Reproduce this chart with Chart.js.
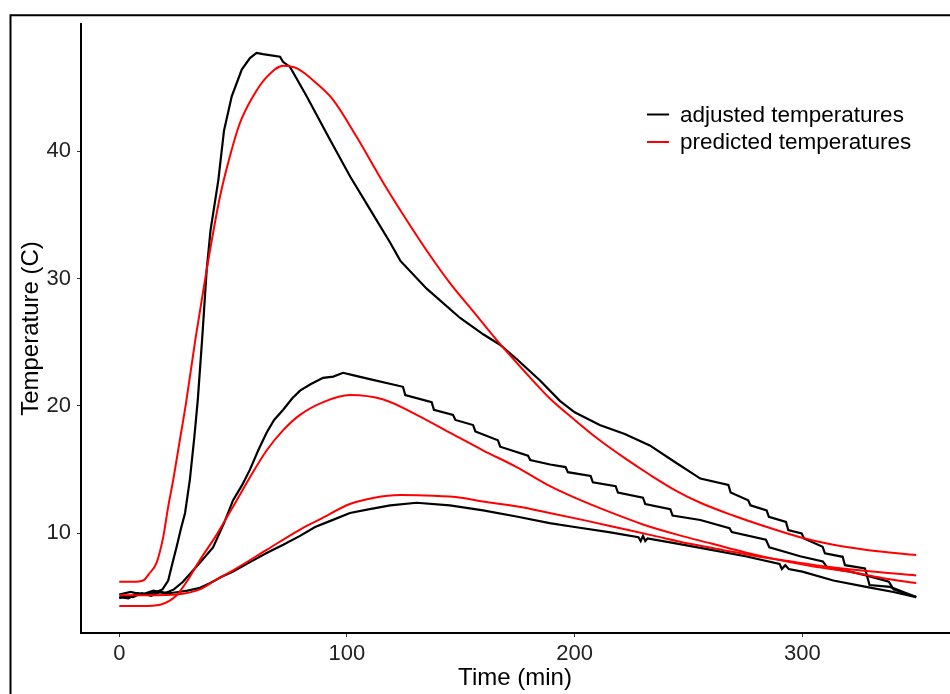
<!DOCTYPE html>
<html>
<head>
<meta charset="utf-8">
<script src="https://cdn.jsdelivr.net/npm/chart.js@4.4.1/dist/chart.umd.min.js"></script>
<style>
  html, body { margin: 0; padding: 0; background: #fff; overflow: hidden; }
  #wrap { position: relative; width: 950px; height: 694px; }
</style>
</head>
<body>
<div id="wrap"><canvas id="tempChart" width="950" height="694"></canvas></div>
<script>
// adjusted (measured) temperatures, three runs
const adjTimeA = [0, 4, 8, 12, 16, 19, 21.5, 23, 25.2, 27, 28.9, 31, 33, 34.5, 36.5, 38.4, 40.1, 43.5, 46, 49.4, 53.8, 57.4, 60.3, 63.1, 70.6, 71.9, 75, 82.3, 92.5, 101.4, 110.2, 119, 123.4, 135, 149.7, 160, 167.2, 175, 184.8, 193.5, 200, 211, 222, 233, 244, 255.2, 267.5, 268.5, 276.2, 277.2, 284.3, 285.3, 292.8, 293.8, 299.7, 300.7, 308.9, 309.9, 317.7, 318.7, 327.5, 329.5, 338.5, 350];
const adjTempA = [5.0, 4.9, 5.3, 5.2, 5.4, 5.6, 6.3, 7.4, 8.95, 10.3, 11.6, 14.2, 17.6, 20.5, 25.5, 30.7, 33.8, 37.7, 41.6, 44.3, 46.4, 47.3, 47.7, 47.6, 47.4, 47.0, 46.6, 44.3, 40.9, 38.0, 35.4, 32.8, 31.4, 29.2, 26.9, 25.6, 24.8, 23.6, 22.0, 20.4, 19.5, 18.5, 17.8, 16.9, 15.6, 14.3, 13.8, 13.2, 12.6, 12.2, 11.8, 11.3, 10.9, 10.26, 10.0, 9.6, 8.95, 8.43, 8.16, 7.5, 7.25, 5.94, 5.8, 5.0];

const adjTimeB = [0, 5, 10, 15, 20, 24, 28, 35.4, 41.2, 46, 50, 54, 57.4, 61, 64.7, 68, 72, 76, 79.4, 84, 89.5, 94, 98.3, 103, 110, 124.6, 125.6, 137.2, 138.2, 146.6, 147.6, 155.4, 156.4, 166.3, 167.3, 179.5, 180.5, 189.2, 196, 197, 207, 208, 218, 219, 230, 231, 242, 243, 255.2, 268, 269, 284, 285.5, 299, 309, 311, 321, 328, 338, 340, 350];
const adjTempB = [5.2, 5.4, 5.2, 5.5, 5.3, 5.6, 6.2, 7.7, 8.9, 10.8, 12.6, 13.8, 15.0, 16.5, 17.9, 18.9, 19.7, 20.6, 21.2, 21.7, 22.2, 22.3, 22.6, 22.4, 22.1, 21.5, 20.85, 20.3, 19.7, 19.3, 18.9, 18.5, 18.0, 17.3, 16.8, 16.1, 15.75, 15.4, 15.2, 14.8, 14.5, 14.0, 13.7, 13.2, 12.8, 12.3, 11.9, 11.4, 11.05, 10.4, 10.1, 9.5, 8.9, 8.2, 7.8, 7.3, 7.0, 6.7, 6.2, 5.6, 5.0];

const adjTimeC = [0, 3, 6, 10, 14, 18, 22, 26, 30, 35, 40, 45, 50, 57, 64.7, 72, 79.4, 86, 93, 101.3, 110, 119, 130.6, 145.2, 159.8, 175, 189, 200, 215, 228, 229, 230, 231, 232, 245, 260, 275, 290, 291, 292.5, 294, 300, 313.6, 328, 340, 350];
const adjTempC = [4.9, 5.1, 5.0, 5.3, 5.1, 5.4, 5.3, 5.4, 5.5, 5.7, 6.1, 6.6, 7.0, 7.7, 8.45, 9.1, 9.8, 10.5, 11.0, 11.6, 11.9, 12.2, 12.4, 12.2, 11.8, 11.3, 10.8, 10.5, 10.1, 9.7, 9.4, 9.8, 9.4, 9.6, 9.2, 8.7, 8.2, 7.6, 7.2, 7.5, 7.2, 7.0, 6.3, 5.8, 5.4, 5.0];

// predicted temperatures, three runs
const predTimeA = [0, 6, 10.5, 13, 16.4, 19.3, 21.5, 23.7, 26.5, 29.3, 33.5, 38.4, 44.2, 48.6, 53, 58.8, 64.7, 72, 77.9, 86.7, 94, 104.3, 116, 123.3, 135, 145, 156, 167, 178, 189, 200, 211, 222, 233, 244, 255.2, 269.6, 284.4, 299, 313.6, 328.3, 350];
const predTempA = [6.2, 6.2, 6.3, 6.8, 7.7, 9.7, 12.1, 14.2, 17.2, 20.2, 25.3, 30.7, 36.4, 39.6, 42.2, 44.3, 45.8, 46.7, 46.5, 45.3, 44.0, 41.1, 37.5, 35.4, 32.2, 29.7, 27.3, 24.9, 22.7, 20.6, 18.9, 17.3, 15.9, 14.6, 13.4, 12.4, 11.4, 10.5, 9.7, 9.1, 8.7, 8.3];

const predTimeB = [0, 10, 18, 22, 25.5, 29.6, 35.4, 42.8, 51.6, 57.4, 64.7, 72, 79.4, 89.6, 101.3, 116, 130.6, 145.2, 159.9, 174.5, 189.2, 200, 215, 230, 245, 260, 275, 290, 305, 320, 335, 350];
const predTempB = [4.3, 4.3, 4.4, 4.7, 5.2, 6.2, 7.9, 9.9, 12.6, 14.4, 16.5, 18.1, 19.3, 20.3, 20.85, 20.5, 19.3, 17.9, 16.5, 15.2, 13.7, 12.8, 11.7, 10.7, 9.9, 9.2, 8.5, 7.9, 7.4, 7.0, 6.5, 6.1];

const predTimeC = [0, 15, 25, 35.4, 42, 50, 64.7, 79.4, 88.1, 101.3, 112, 123.3, 137.8, 150, 159.8, 175, 189, 205, 220, 235, 250, 265, 280, 295, 310, 325, 350];
const predTempC = [5.15, 5.15, 5.2, 5.6, 6.3, 7.1, 8.7, 10.3, 11.1, 12.3, 12.8, 13.0, 12.95, 12.8, 12.5, 12.1, 11.6, 11.0, 10.4, 9.8, 9.2, 8.7, 8.2, 7.8, 7.4, 7.1, 6.7];

const xTickValues = [0, 100, 200, 300];
const yTickValues = [10, 20, 30, 40];
const legendLabels = ['adjusted temperatures', 'predicted temperatures'];
const legendColors = ['#000000', '#ff0000'];

function pts(xs, ys) {
  return xs.map((x, i) => ({ x: x, y: ys[i] }));
}

const FONT = "'Liberation Sans', Arial, sans-serif";

function adjusted(xs, ys) {
  return { data: pts(xs, ys), borderColor: legendColors[0], borderWidth: 2.2, pointRadius: 0, tension: 0, order: 1 };
}
function predicted(xs, ys) {
  return { data: pts(xs, ys), borderColor: legendColors[1], borderWidth: 2, pointRadius: 0, cubicInterpolationMode: 'monotone', order: 0 };
}

const framePlugin = {
  id: 'frameAndLegend',
  beforeDraw(chart) {
    const ctx = chart.ctx;
    ctx.save();
    ctx.fillStyle = '#fff';
    ctx.fillRect(0, 0, chart.width, chart.height);
    ctx.restore();
  },
  afterDraw(chart) {
    const ctx = chart.ctx;
    ctx.save();
    // outer frame (only top and left edges fall inside the picture)
    ctx.strokeStyle = '#000';
    ctx.lineWidth = 2;
    ctx.beginPath();
    ctx.moveTo(10.5, chart.height + 2);
    ctx.lineTo(10.5, 15.3);
    ctx.lineTo(chart.width + 2, 15.3);
    ctx.stroke();
    // legend
    ctx.font = '22.5px ' + FONT;
    ctx.textBaseline = 'middle';
    ctx.textAlign = 'left';
    legendLabels.forEach((label, i) => {
      const y = 114.5 + i * 27.5;
      ctx.strokeStyle = legendColors[i];
      ctx.lineWidth = 2;
      ctx.beginPath();
      ctx.moveTo(647, y);
      ctx.lineTo(669, y);
      ctx.stroke();
      ctx.fillStyle = '#000';
      ctx.fillText(label, 680, y + 1);
    });
    ctx.restore();
  }
};

new Chart(document.getElementById('tempChart'), {
  type: 'line',
  data: {
    datasets: [
      predicted(predTimeA, predTempA),
      predicted(predTimeB, predTempB),
      predicted(predTimeC, predTempC),
      adjusted(adjTimeA, adjTempA),
      adjusted(adjTimeB, adjTempB),
      adjusted(adjTimeC, adjTempC)
    ]
  },
  options: {
    responsive: false,
    animation: false,
    devicePixelRatio: 1,
    layout: { padding: { left: 0, right: 1, top: 24, bottom: 0 } },
    plugins: {
      legend: { display: false },
      tooltip: { enabled: false }
    },
    scales: {
      x: {
        type: 'linear',
        min: -16.8,
        max: 364.4,
        afterFit: s => { s.height = 61; },
        afterBuildTicks: s => { s.ticks = xTickValues.map(v => ({ value: v })); },
        border: { display: true, color: '#000', width: 2 },
        grid: { display: true, drawOnChartArea: false, drawTicks: true, tickLength: 4, color: '#333', lineWidth: 1 },
        ticks: { color: '#222', padding: 4, font: { family: FONT, size: 22 } },
        title: { display: true, text: 'Time (min)', color: '#000', padding: { top: 0, bottom: 1 }, font: { family: FONT, size: 24 } }
      },
      y: {
        type: 'linear',
        min: 2.18,
        max: 49.97,
        afterFit: s => { s.width = 81; },
        afterBuildTicks: s => { s.ticks = yTickValues.map(v => ({ value: v })); },
        border: { display: true, color: '#000', width: 2 },
        grid: { display: true, drawOnChartArea: false, drawTicks: true, tickLength: 4, color: '#333', lineWidth: 1 },
        ticks: { color: '#222', padding: 6, font: { family: FONT, size: 22 } },
        title: { display: true, text: 'Temperature (C)', color: '#000', padding: { top: 17, bottom: 0 }, font: { family: FONT, size: 24 } }
      }
    }
  },
  plugins: [framePlugin]
});
</script>
</body>
</html>
